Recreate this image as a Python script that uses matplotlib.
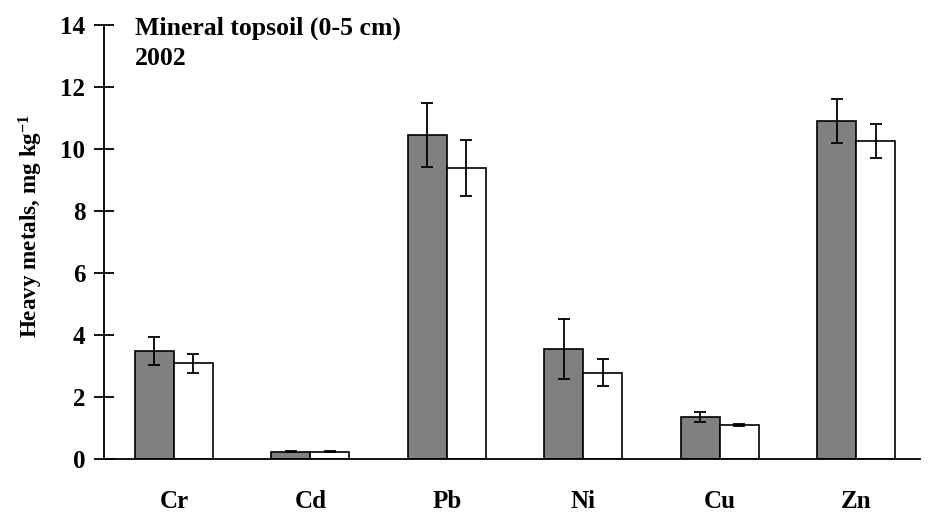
import numpy as np
import matplotlib
matplotlib.use("Agg")
import matplotlib.pyplot as plt

metals = ["Cr", "Cd", "Pb", "Ni", "Cu", "Zn"]
gray_vals = [3.49, 0.24, 10.45, 3.54, 1.34, 10.90]
gray_err = [0.45, 0.03, 1.03, 0.97, 0.16, 0.71]
white_vals = [3.09, 0.24, 9.39, 2.78, 1.09, 10.26]
white_err = [0.31, 0.03, 0.90, 0.43, 0.04, 0.55]
yticks = [0, 2, 4, 6, 8, 10, 12, 14]

plt.rcParams['font.family'] = ['Liberation Serif', 'DejaVu Serif']
plt.rcParams['font.weight'] = 'bold'
plt.rcParams['mathtext.fontset'] = 'custom'
plt.rcParams['mathtext.rm'] = 'Liberation Serif:bold'
plt.rcParams['mathtext.bf'] = 'Liberation Serif:bold'
plt.rcParams['mathtext.default'] = 'bf'

fig = plt.figure(figsize=(9.33, 5.2), dpi=100)
ax = fig.add_axes([0.1115, 0.1173, 0.875, 0.8347])

x = np.arange(len(metals))
w = 0.285
ekw = dict(elinewidth=1.3, capthick=1.3)
ax.bar(x - w/2, gray_vals, w, color='#808080', edgecolor='black', linewidth=1.2,
       yerr=gray_err, capsize=4.5, error_kw=ekw)
ax.bar(x + w/2, white_vals, w, color='white', edgecolor='black', linewidth=1.2,
       yerr=white_err, capsize=4.5, error_kw=ekw)

ax.set_xlim(-0.512, 5.47)
ax.set_ylim(0, 14)
ax.set_yticks(yticks)
ax.set_xticks(x)
ax.set_xticklabels(metals, fontsize=18, fontweight='bold')
ax.tick_params(axis='x', length=0, pad=22)
ax.tick_params(axis='y', direction='inout', length=14, width=1.3, labelsize=18, pad=6.5)
for lab in ax.get_yticklabels():
    lab.set_fontweight('bold')
for s in ['top', 'right']:
    ax.spines[s].set_visible(False)
ax.spines['left'].set_linewidth(1.3)
ax.spines['bottom'].set_linewidth(1.3)

fig.text(0.033, 0.565, "Heavy metals, mg kg$^{-1}$", rotation=90, fontsize=16.7,
         fontweight='bold', ha='center', va='center')
ax.text(0.038, 0.977, "Mineral topsoil (0-5 cm)", transform=ax.transAxes,
        fontsize=18.5, fontweight='bold', va='baseline', ha='left')
ax.text(0.038, 0.908, "2002", transform=ax.transAxes,
        fontsize=18.5, fontweight='bold', va='baseline', ha='left')

fig.savefig("out.png", dpi=100)
